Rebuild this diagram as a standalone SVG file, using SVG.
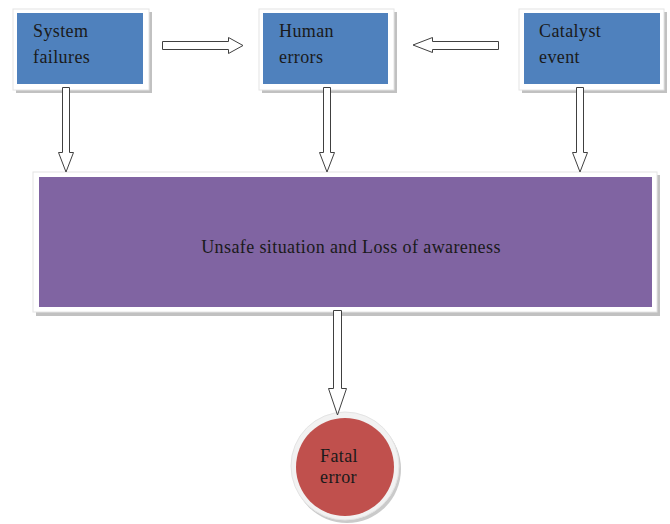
<svg xmlns="http://www.w3.org/2000/svg" width="670" height="524" viewBox="0 0 670 524">
<defs>
<style>
.sh{fill:#a6a6a6;opacity:0.7}
.fr{fill:#ffffff;stroke:#e4e4e4;stroke-width:1}
.t{font-family:"Liberation Serif","Times New Roman",serif;font-size:18px;letter-spacing:0.4px;fill:#1a1a1a}
.ar{fill:#ffffff;stroke:#404040;stroke-width:1}
</style>
</defs>
<rect width="670" height="524" fill="#ffffff"/>
<g id="system-failures">
<rect class="sh" x="16" y="12" width="136" height="81"/>
<rect class="fr" x="13" y="9" width="136" height="81"/>
<rect x="17" y="13" width="126" height="71" fill="#4F81BD"/>
<text class="t" x="33" y="37">System</text>
<text class="t" x="33" y="63">failures</text>
</g>
<g id="human-errors">
<rect class="sh" x="262" y="12" width="135" height="81"/>
<rect class="fr" x="259" y="9" width="135" height="81"/>
<rect x="263" y="13" width="125" height="71" fill="#4F81BD"/>
<text class="t" x="279" y="37">Human</text>
<text class="t" x="279" y="63">errors</text>
</g>
<g id="catalyst-event">
<rect class="sh" x="522" y="12" width="145" height="81"/>
<rect class="fr" x="519" y="9" width="145" height="81"/>
<rect x="524" y="13" width="136" height="71" fill="#4F81BD"/>
<text class="t" x="539" y="37">Catalyst</text>
<text class="t" x="539" y="63">event</text>
</g>
<g id="unsafe-situation">
<rect class="sh" x="36" y="175" width="624" height="141"/>
<rect class="fr" x="33" y="172" width="624" height="140"/>
<rect x="39" y="177" width="613" height="130" fill="#8064A2"/>
<text class="t" x="351" y="253" text-anchor="middle">Unsafe situation and Loss of awareness</text>
</g>
<g id="fatal-error">
<circle cx="347" cy="469" r="54" fill="#a6a6a6" opacity="0.6"/>
<circle cx="345" cy="466" r="54" fill="#f2f2f2" stroke="#e4e4e4"/>
<circle cx="345" cy="467" r="49" fill="#C0504D"/>
<text class="t" x="320" y="462">Fatal</text>
<text class="t" x="320" y="483">error</text>
</g>
<g id="connectors">
<polygon class="ar" points="162.5,41.5 228.5,41.5 228.5,37.5 243,45.5 228.5,53.5 228.5,49.5 162.5,49.5"/>
<polygon class="ar" points="498.5,41.5 432.5,41.5 432.5,37.5 413,45 432.5,52.5 432.5,49.5 498.5,49.5"/>
<polygon class="ar" points="62.5,87.5 69.5,87.5 69.5,152.5 73.5,152.5 66,172 58.5,152.5 62.5,152.5"/>
<polygon class="ar" points="323.5,87.5 330.5,87.5 330.5,152.5 334.5,152.5 327,172 319.5,152.5 323.5,152.5"/>
<polygon class="ar" points="576.5,87.5 583.5,87.5 583.5,152.5 587.5,152.5 580,172 572.5,152.5 576.5,152.5"/>
<polygon class="ar" points="333.5,310.5 341.5,310.5 341.5,388.5 346.5,388.5 337.5,415 328.5,388.5 333.5,388.5"/>
</g>
</svg>
